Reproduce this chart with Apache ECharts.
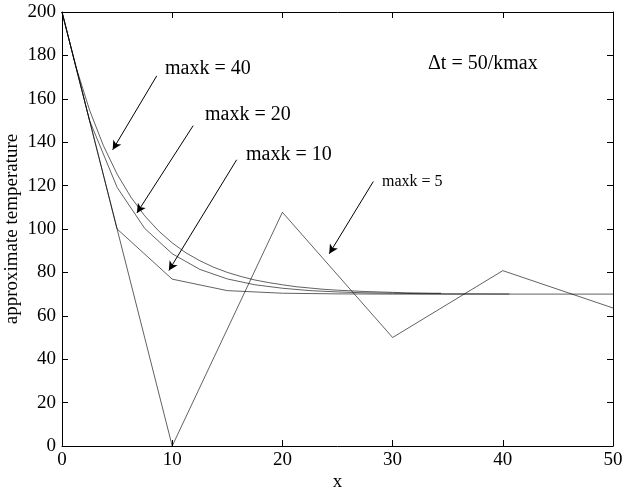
<!DOCTYPE html>
<html>
<head>
<meta charset="utf-8">
<script src="https://cdn.jsdelivr.net/npm/echarts@6/dist/echarts.min.js"></script>
<style>
html,body{margin:0;padding:0;background:#fff;}
#c{width:623px;height:494px;}
</style>
</head>
<body>
<div id="c"></div>
<script>
// Data
var x5 = [0, 10, 20, 30, 40, 50];
var y5 = [200, 0, 107.7, 50, 80.8, 63.6];

var x10 = [0, 5, 10, 15, 20, 25, 30, 35, 40, 45, 50];
var y10 = [200, 100, 76.9, 71.6, 70.4, 70.1, 70.0, 70.0, 70.0, 70.0, 70.0];

var x20 = [0, 2.5, 5, 7.5, 10, 12.5, 15, 17.5, 20, 22.5, 25, 27.5, 30, 32.5, 35, 37.5, 40, 40.6];
var y20 = [200, 150, 119.2, 100.3, 88.6, 81.4, 77.0, 74.3, 72.7, 71.6, 71.0, 70.6, 70.4, 70.2, 70.1, 70.1, 70.05, 70.05];

var x40 = [0, 1.25, 2.5, 3.75, 5, 6.25, 7.5, 8.75, 10, 11.25, 12.5, 13.75, 15, 16.25, 17.5, 18.75, 20, 21.25, 22.5, 23.75, 25, 26.25, 27.5, 28.75, 30, 31.25, 32.5, 33.75, 34.4];
var y40 = [200, 175.0, 154.8, 138.5, 125.3, 114.7, 106.1, 99.2, 93.6, 89.0, 85.4, 82.4, 80.0, 78.1, 76.5, 75.3, 74.3, 73.4, 72.8, 72.2, 71.8, 71.5, 71.2, 71.0, 70.8, 70.6, 70.5, 70.4, 70.4];

var xTicks = [0, 10, 20, 30, 40, 50];
var yTicks = [0, 20, 40, 60, 80, 100, 120, 140, 160, 180, 200];

// Annotation arrows: [start, tip] in data coordinates
var arrows = [
  [[8.6, 170.6], [4.6, 136.5]],
  [[11.9, 147.6], [6.8, 107.4]],
  [[15.85, 131.9], [9.7, 80.9]],
  [[28.25, 121.9], [24.25, 88.6]]
];

function pairs(xs, ys) { return xs.map(function (v, i) { return [v, ys[i]]; }); }

var FONT = 'Liberation Serif';
var lineCol = 'rgba(0,0,0,0.62)';

var chart = echarts.init(document.getElementById('c'));
var axisCommon = {
  axisLine: { show: true, onZero: false, lineStyle: { color: '#000', width: 1 } },
  axisTick: { show: true, inside: true, length: 6, lineStyle: { color: '#000' } },
  splitLine: { show: false }
};
chart.setOption({
  animation: false,
  backgroundColor: '#fff',
  grid: { left: 62, right: 10, top: 12, bottom: 48, containLabel: false, outerBoundsMode: 'none' },
  xAxis: [
    Object.assign({
      type: 'value', min: 0, max: 50, interval: 10,
      name: 'x', nameLocation: 'middle', nameGap: 27, nameMoveOverlap: false,
      nameTextStyle: { fontFamily: FONT, fontSize: 19, color: '#000' },
      axisLabel: { fontFamily: FONT, fontSize: 19, color: '#000', margin: 5 }
    }, axisCommon),
    Object.assign({
      type: 'value', min: 0, max: 50, interval: 10, position: 'top',
      axisLabel: { show: false }
    }, axisCommon)
  ],
  yAxis: [
    Object.assign({
      type: 'value', min: 0, max: 200, interval: 20,
      name: 'approximate temperature', nameLocation: 'middle', nameGap: 40, nameMoveOverlap: false,
      nameTextStyle: { fontFamily: FONT, fontSize: 19, color: '#000' },
      axisLabel: { fontFamily: FONT, fontSize: 19, color: '#000', margin: 6 }
    }, axisCommon),
    Object.assign({
      type: 'value', min: 0, max: 200, interval: 20, position: 'right',
      axisLabel: { show: false }
    }, axisCommon)
  ],
  series: [
    { name: 'maxk = 5', type: 'line', data: pairs(x5, y5), symbol: 'none',
      lineStyle: { color: lineCol, width: 1 },
      markLine: {
        silent: true, symbol: ['none', 'arrow'], symbolSize: [7, 9],
        label: { show: false },
        lineStyle: { color: '#000', width: 1, type: 'solid' },
        data: arrows.map(function (a) { return [{ coord: a[0] }, { coord: a[1] }]; })
      }
    },
    { name: 'maxk = 10', type: 'line', data: pairs(x10, y10), symbol: 'none',
      lineStyle: { color: lineCol, width: 1 } },
    { name: 'maxk = 20', type: 'line', data: pairs(x20, y20), symbol: 'none',
      lineStyle: { color: lineCol, width: 1 } },
    { name: 'maxk = 40', type: 'line', data: pairs(x40, y40), symbol: 'none',
      lineStyle: { color: lineCol, width: 1 } }
  ],
  graphic: [
    { type: 'text', left: 165, top: 59, style: { text: 'maxk = 40', font: '20px "Liberation Serif"', fill: '#000' } },
    { type: 'text', left: 205, top: 105, style: { text: 'maxk = 20', font: '20px "Liberation Serif"', fill: '#000' } },
    { type: 'text', left: 246, top: 145, style: { text: 'maxk = 10', font: '20px "Liberation Serif"', fill: '#000' } },
    { type: 'text', left: 382, top: 174, style: { text: 'maxk = 5', font: '16px "Liberation Serif"', fill: '#000' } },
    { type: 'text', left: 428, top: 54, style: { text: 'Δt = 50/kmax', font: '20px "Liberation Serif"', fill: '#000' } }
  ]
});
</script>
</body>
</html>
